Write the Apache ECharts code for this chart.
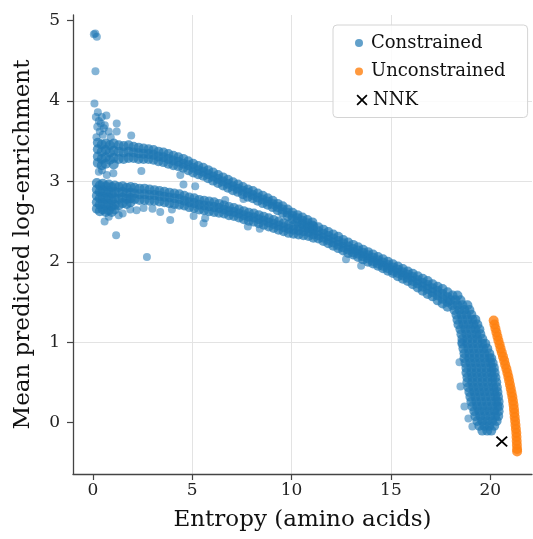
<!DOCTYPE html>
<html>
<head>
<meta charset="utf-8">
<script src="https://cdn.jsdelivr.net/npm/echarts@6/dist/echarts.min.js"></script>
<style>
html,body{margin:0;padding:0;background:#fff;}
#chart{width:533px;height:539px;}
</style>
</head>
<body>
<div id="chart"></div>
<script>
// ---- Data ----
const xTicks = [0, 5, 10, 15, 20];
const yTicks = [0, 1, 2, 3, 4, 5];

// Constrained: sparse points (spike at left and stray points)
const constrainedStray = [
  [0.05,4.83],[0.12,4.84],[0.2,4.80],[0.13,4.37],[0.08,3.97],[0.15,3.80],[0.3,3.75],[0.22,3.68],
  [0.4,3.72],[0.35,3.62],[0.68,3.82],[0.5,3.58],[0.18,3.55],[1.2,3.72],[1.2,3.62],[1.93,3.57],
  [0.9,3.55],[0.6,3.70],[0.25,3.86],[0.45,3.80],[0.55,3.66],[0.8,3.62],
  [0.46,3.14],[1.03,3.10],[2.44,3.13],[4.4,3.08],[4.56,2.96],[5.15,2.94],[0.3,3.12],[0.7,3.08],
  [0.59,2.50],[1.17,2.33],[2.72,2.06],[1.88,2.65],[2.55,2.67],[3.39,2.62],[3.98,2.65],[3.89,2.52],
  [5.07,2.57],[5.57,2.48],[5.65,2.54],[7.8,2.44],[8.4,2.41],[7.58,2.78],[6.66,2.77],[12.74,2.03],
  [13.5,1.95],[0.8,2.56],[1.5,2.60],[3.0,2.66],[1.3,2.58],[2.2,2.64]
];
// Upper band: [x, [y values]]
const upperBand = [
  [0.25,[3.48,3.40,3.31,3.23]],[0.45,[3.46,3.37,3.28,3.20]],[0.65,[3.47,3.39,3.30,3.22]],
  [0.85,[3.45,3.36,3.27]],[1.05,[3.47,3.38,3.29,3.21]],[1.3,[3.45,3.37,3.28]],[1.55,[3.44,3.36,3.28]],
  [1.8,[3.45,3.37,3.29]],[2.05,[3.43,3.36,3.29]],[2.3,[3.42,3.35,3.28]],[2.55,[3.41,3.345,3.28]],
  [2.8,[3.40,3.34,3.28]],[3.05,[3.39,3.33,3.27]],[3.3,[3.37,3.31,3.25]],[3.55,[3.36,3.30,3.24]],
  [3.8,[3.34,3.28,3.22]],[4.05,[3.32,3.26,3.20]],[4.3,[3.30,3.245,3.19]],[4.55,[3.28,3.22,3.17]],
  [4.8,[3.25,3.20,3.14]],[5.05,[3.22,3.17,3.11]],[5.3,[3.19,3.14,3.09]],[5.55,[3.17,3.12,3.07]],
  [5.8,[3.14,3.09,3.04]],[6.05,[3.11,3.06,3.01]],[6.3,[3.08,3.03,2.98]],[6.55,[3.05,3.00,2.95]],
  [6.8,[3.02,2.97,2.92]],[7.05,[2.99,2.94,2.89]],[7.3,[2.96,2.91,2.87]],[7.55,[2.93,2.885,2.84]],
  [7.8,[2.90,2.86,2.81]],[8.05,[2.88,2.83,2.79]],[8.3,[2.85,2.80,2.76]],[8.55,[2.82,2.775,2.73]],
  [8.8,[2.79,2.75,2.71]],[9.05,[2.76,2.72,2.68]],[9.3,[2.72,2.68,2.64]],[9.55,[2.69,2.65,2.61]],
  [9.8,[2.65,2.61,2.57]],[10.05,[2.61,2.57,2.53]],[10.3,[2.58,2.54,2.50]],[10.55,[2.55,2.51,2.47]],
  [10.8,[2.52,2.48,2.44]],[11.05,[2.49,2.45,2.41]]
];
// Lower band: [x, [y values]]
const lowerBand = [
  [0.2,[2.98,2.90,2.82,2.74,2.66]],[0.35,[2.95,2.87,2.79,2.71,2.63]],[0.5,[2.97,2.89,2.81,2.73,2.65]],
  [0.65,[2.94,2.86,2.78,2.70,2.62]],[0.8,[2.96,2.88,2.80,2.72,2.64]],[0.95,[2.93,2.85,2.77,2.69,2.62]],
  [1.1,[2.95,2.87,2.79,2.71,2.65]],[1.3,[2.93,2.86,2.78,2.70]],[1.5,[2.94,2.87,2.80,2.73]],
  [1.7,[2.92,2.85,2.78,2.72]],[1.9,[2.93,2.86,2.79,2.74]],[2.1,[2.92,2.85,2.78]],[2.35,[2.91,2.84,2.77]],
  [2.6,[2.91,2.84,2.77]],[2.85,[2.90,2.83,2.76]],[3.1,[2.89,2.83,2.76]],[3.35,[2.88,2.82,2.75]],
  [3.6,[2.87,2.81,2.74]],[3.85,[2.86,2.80,2.73]],[4.1,[2.85,2.79,2.72]],[4.35,[2.84,2.78,2.71]],
  [4.6,[2.82,2.76,2.70]],[4.85,[2.80,2.74,2.68]],[5.1,[2.79,2.73,2.67]],[5.35,[2.77,2.71,2.65]],
  [5.6,[2.76,2.70,2.64]],[5.85,[2.75,2.69,2.63]],[6.1,[2.74,2.68,2.62]],[6.35,[2.72,2.67,2.61]],
  [6.6,[2.70,2.65,2.60]],[6.85,[2.68,2.63,2.58]],[7.1,[2.67,2.62,2.57]],[7.35,[2.65,2.60,2.55]],
  [7.6,[2.63,2.58,2.53]],[7.85,[2.61,2.56,2.51]],[8.1,[2.60,2.55,2.50]],[8.35,[2.58,2.53,2.48]],
  [8.6,[2.56,2.51,2.46]],[8.85,[2.54,2.49,2.44]],[9.1,[2.52,2.47,2.42]],[9.35,[2.50,2.45,2.40]],
  [9.6,[2.48,2.43,2.38]],[9.85,[2.46,2.41,2.36]],[10.1,[2.45,2.40,2.35]],[10.35,[2.44,2.39,2.34]],
  [10.6,[2.43,2.38,2.33]],[10.85,[2.42,2.37,2.32]]
];
// Merged band: [x, [y values]]
const mergedBand = [
  [11.1,[2.44,2.39,2.34,2.30]],[11.35,[2.43,2.38,2.33,2.29]],[11.6,[2.40,2.35,2.30,2.26]],
  [11.85,[2.37,2.32,2.27,2.23]],[12.1,[2.34,2.29,2.24,2.20]],[12.35,[2.31,2.26,2.21,2.17]],
  [12.6,[2.27,2.23,2.18,2.14]],[12.85,[2.24,2.19,2.15,2.11]],[13.1,[2.21,2.16,2.12,2.09]],
  [13.35,[2.18,2.14,2.10,2.06]],[13.6,[2.15,2.11,2.07,2.03]],[13.85,[2.12,2.08,2.04,2.00]],
  [14.1,[2.09,2.05,2.01,1.98]],[14.35,[2.06,2.02,1.98,1.95]],[14.6,[2.03,1.99,1.95,1.92]],
  [14.85,[2.00,1.96,1.92,1.89]],[15.1,[1.97,1.93,1.89,1.86]],[15.35,[1.94,1.90,1.86,1.82]],
  [15.6,[1.91,1.87,1.83,1.79]],[15.85,[1.88,1.84,1.80,1.76]],[16.1,[1.85,1.81,1.76,1.72]],
  [16.35,[1.82,1.77,1.73,1.68]],[16.6,[1.79,1.74,1.69,1.64]],[16.85,[1.76,1.71,1.66,1.60]],
  [17.1,[1.72,1.67,1.62,1.57]],[17.35,[1.69,1.64,1.58,1.52]],[17.6,[1.66,1.60,1.54,1.48]],
  [17.85,[1.62,1.56,1.50,1.44]]
];
// Tail (steep drop near x≈19–20.5): [y, [x values]]
const tailRows = [
  [1.58,[18.1,18.35]],[1.52,[18.0,18.25,18.5]],[1.46,[18.1,18.35,18.6,18.85]],
  [1.40,[18.2,18.45,18.7,18.95]],[1.34,[18.3,18.55,18.8,19.05]],[1.28,[18.35,18.6,18.85,19.1,19.25]],
  [1.22,[18.4,18.65,18.9,19.15,19.35]],[1.16,[18.5,18.75,19.0,19.25,19.45]],
  [1.10,[18.55,18.8,19.05,19.3,19.5]],[1.04,[18.6,18.85,19.1,19.35,19.6]],
  [0.98,[18.6,18.85,19.1,19.35,19.6,19.75]],[0.92,[18.65,18.9,19.15,19.4,19.65,19.85]],
  [0.86,[18.7,18.95,19.2,19.45,19.7,19.95]],[0.80,[18.7,18.95,19.2,19.45,19.7,19.95,20.05]],
  [0.74,[18.75,19.0,19.25,19.5,19.75,20.0,20.12]],[0.68,[18.8,19.05,19.3,19.55,19.8,20.05,20.18]],
  [0.62,[18.8,19.05,19.3,19.55,19.8,20.05,20.22]],[0.56,[18.85,19.1,19.35,19.6,19.85,20.1,20.26]],
  [0.50,[18.85,19.1,19.35,19.6,19.85,20.1,20.3]],[0.44,[18.9,19.15,19.4,19.65,19.9,20.15,20.33]],
  [0.38,[18.95,19.2,19.45,19.7,19.95,20.2,20.36]],[0.32,[19.0,19.25,19.5,19.75,20.0,20.25,20.39]],
  [0.26,[19.05,19.3,19.55,19.8,20.05,20.3,20.42]],[0.20,[19.1,19.35,19.6,19.85,20.1,20.35,20.43]],
  [0.14,[19.2,19.45,19.7,19.95,20.2,20.42]],[0.08,[19.25,19.5,19.75,20.0,20.25,20.4]],
  [0.02,[19.35,19.6,19.85,20.1,20.32]],[-0.04,[19.45,19.7,19.95,20.2]],[-0.10,[19.6,19.85,20.05]]
];
const tailStray = [[18.45,0.75],[18.5,0.45],[18.7,0.2],[18.9,0.05],[18.55,1.0],[19.1,-0.05]];

// Unconstrained curve
const unconstrainedPts = [
  [20.17,1.27],[20.21,1.22],[20.26,1.17],[20.31,1.12],[20.36,1.07],[20.41,1.02],[20.47,0.97],
  [20.52,0.92],[20.58,0.87],[20.64,0.82],[20.70,0.77],[20.75,0.72],[20.81,0.67],[20.86,0.62],
  [20.91,0.57],[20.95,0.52],[20.99,0.47],[21.03,0.42],[21.07,0.37],[21.11,0.32],[21.14,0.27],
  [21.17,0.22],[21.19,0.17],[21.21,0.12],[21.23,0.07],[21.25,0.02],[21.27,-0.03],[21.29,-0.08],
  [21.31,-0.13],[21.32,-0.18],[21.33,-0.23],[21.34,-0.28],[21.35,-0.33],[21.35,-0.36]
];
// NNK
const nnkPoint = [[20.58,-0.236]];

// ---- Build series data ----
const bandData = [];
[upperBand, lowerBand, mergedBand].forEach(band => band.forEach(([x, ys]) => ys.forEach(y => bandData.push([x, y]))));
tailRows.forEach(([y, xs]) => xs.forEach(x => bandData.push([x, y])));
const strayData = constrainedStray.concat(tailStray);

const FONT = 'DejaVu Serif';
const xIcon = 'path://M0,1.1L1.1,0L5,3.9L8.9,0L10,1.1L6.1,5L10,8.9L8.9,10L5,6.1L1.1,10L0,8.9L3.9,5Z';
const axisColor = '#444';

const chart = echarts.init(document.getElementById('chart'), null, {renderer: 'canvas'});
chart.setOption({
  animation: false,
  backgroundColor: '#fff',
  grid: {left: 73, right: 1, top: 15, bottom: 65, containLabel: false, outerBoundsMode: 'none'},
  xAxis: {
    type: 'value', min: -1, max: 22.1,
    name: 'Entropy (amino acids)', nameLocation: 'middle', nameGap: 35,
    nameTextStyle: {fontFamily: FONT, fontSize: 23, color: '#111'},
    axisLine: {show: true, onZero: false, lineStyle: {color: axisColor, width: 1.3}},
    axisTick: {show: true, length: 6, lineStyle: {color: axisColor, width: 1.2}, customValues: xTicks},
    axisLabel: {fontFamily: FONT, fontSize: 17, color: '#222', margin: 8, customValues: xTicks},
    splitLine: {show: true, lineStyle: {color: '#e3e3e3', width: 1}, showMinLine: false, showMaxLine: false}
  },
  yAxis: {
    type: 'value', min: -0.64, max: 5.07,
    name: 'Mean predicted log-enrichment', nameLocation: 'middle', nameGap: 38,
    nameTextStyle: {fontFamily: FONT, fontSize: 23, color: '#111'},
    axisLine: {show: true, onZero: false, lineStyle: {color: axisColor, width: 1.3}},
    axisTick: {show: true, length: 6, lineStyle: {color: axisColor, width: 1.2}, customValues: yTicks},
    axisLabel: {fontFamily: FONT, fontSize: 17, color: '#222', margin: 13, customValues: yTicks},
    splitLine: {show: true, lineStyle: {color: '#e3e3e3', width: 1}, showMinLine: false, showMaxLine: false}
  },
  legend: [{
    orient: 'vertical', left: 333, top: 25,
    padding: [8, 22, 36, 22], itemGap: 8.5, itemWidth: 14, itemHeight: 8,
    backgroundColor: 'rgba(255,255,255,0.85)', borderColor: '#d4d4d4', borderWidth: 1, borderRadius: 4,
    textStyle: {fontFamily: FONT, fontSize: 18, color: '#111', lineHeight: 20},
    selectedMode: false,
    data: [{name: 'Constrained', icon: 'circle'}, {name: 'Unconstrained', icon: 'circle'}]
  }, {
    orient: 'vertical', left: 356.5, top: 90, padding: 0,
    itemWidth: 12, itemHeight: 11,
    textStyle: {fontFamily: FONT, fontSize: 18, color: '#111', lineHeight: 20},
    selectedMode: false,
    data: [{name: 'NNK', icon: xIcon}]
  }],
  series: [
    {name: 'Constrained', type: 'scatter', data: bandData, symbol: 'circle', symbolSize: 10,
     itemStyle: {color: '#1f77b4', opacity: 0.7}, silent: true, z: 2},
    {name: 'Constrained', type: 'scatter', data: strayData, symbol: 'circle', symbolSize: 8,
     itemStyle: {color: '#1f77b4', opacity: 0.55}, silent: true, z: 2},
    {name: 'Unconstrained', type: 'scatter', data: unconstrainedPts, symbol: 'circle', symbolSize: 10,
     itemStyle: {color: '#ff7f0e', opacity: 0.8}, silent: true, z: 3},
    {name: 'NNK', type: 'scatter', data: nnkPoint, symbol: xIcon, symbolSize: [12, 11],
     itemStyle: {color: '#000', opacity: 1}, silent: true, z: 5}
  ]
});
</script>
</body>
</html>
